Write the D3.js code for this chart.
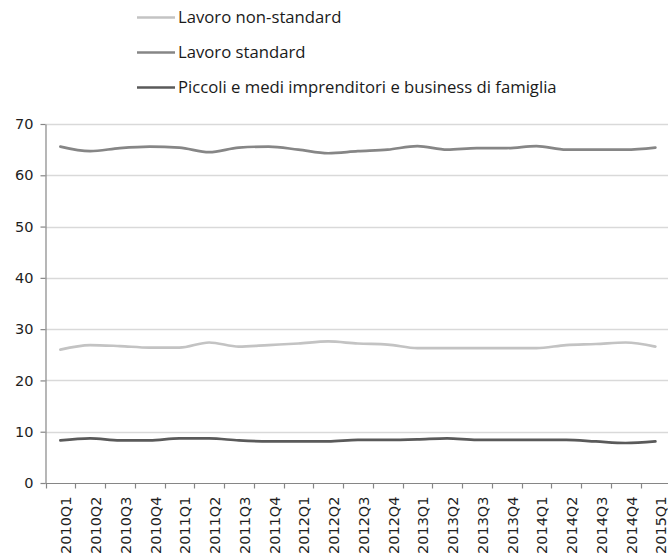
<!DOCTYPE html>
<html>
<head>
<meta charset="utf-8">
<script src="https://cdn.jsdelivr.net/npm/d3@7/dist/d3.min.js"></script>
<style>
  html, body { margin: 0; padding: 0; background: #fff; }
  svg { display: block; }
</style>
</head>
<body>
<svg id="chart" width="668" height="559"></svg>
<script>
// Quarterly shares (%) by employment type
const quarters = [
  "2010Q1","2010Q2","2010Q3","2010Q4",
  "2011Q1","2011Q2","2011Q3","2011Q4",
  "2012Q1","2012Q2","2012Q3","2012Q4",
  "2013Q1","2013Q2","2013Q3","2013Q4",
  "2014Q1","2014Q2","2014Q3","2014Q4",
  "2015Q1"
];
const nonStandard = [26.0, 26.9, 26.7, 26.4, 26.4, 27.4, 26.6, 26.9, 27.2, 27.6, 27.2,
                     27.0, 26.3, 26.3, 26.3, 26.3, 26.3, 26.9, 27.1, 27.4, 26.6];
const standard    = [65.6, 64.7, 65.3, 65.6, 65.4, 64.5, 65.4, 65.6, 65.0, 64.3, 64.7,
                     65.0, 65.7, 65.0, 65.3, 65.3, 65.7, 65.0, 65.0, 65.0, 65.4];
const piccoli     = [8.3, 8.7, 8.3, 8.3, 8.7, 8.7, 8.3, 8.1, 8.1, 8.1, 8.4,
                     8.4, 8.5, 8.7, 8.4, 8.4, 8.4, 8.4, 8.1, 7.8, 8.1];
const yTicks = [0, 10, 20, 30, 40, 50, 60, 70];

const seriesNames  = ["Lavoro non-standard", "Lavoro standard", "Piccoli e medi imprenditori e business di famiglia"];
const seriesValues = [nonStandard, standard, piccoli];
const seriesColors = ["#c3c3c3", "#868686", "#5a5a5a"];

const svg = d3.select("#chart");
const axisFont = "DejaVu Sans, Verdana, sans-serif";

const x = d3.scaleBand().domain(quarters).range([45.5, 670.25]);
const y = d3.scaleLinear().domain([0, 70]).range([483, 124]);

// Horizontal gridlines
svg.append("g")
  .selectAll("line")
  .data(yTicks.filter(t => t > 0))
  .join("line")
  .attr("x1", 45.5).attr("x2", 668)
  .attr("y1", d => Math.round(y(d)) + 0.5).attr("y2", d => Math.round(y(d)) + 0.5)
  .attr("stroke", "#d9d9d9").attr("stroke-width", 1.5);

// Y axis
const yAxis = svg.append("g")
  .attr("transform", "translate(45.5,0)")
  .call(d3.axisLeft(y).tickValues(yTicks).tickSize(5).tickPadding(7).tickSizeOuter(0));
yAxis.attr("font-family", null).attr("font-size", null);
yAxis.select(".domain").attr("stroke", "#868686").attr("stroke-width", 1.2);
yAxis.selectAll(".tick line").attr("stroke", "#868686").attr("stroke-width", 1.2);
yAxis.selectAll(".tick text")
  .style("font-family", axisFont).style("font-size", "14.5px").attr("fill", "#1e1e1e");

// X axis: ticks on category boundaries
const xAxisG = svg.append("g").attr("transform", "translate(0,483.5)");
xAxisG.append("line")
  .attr("x1", 45.5).attr("x2", 668)
  .attr("stroke", "#868686").attr("stroke-width", 1.2);
xAxisG.selectAll("line.tk")
  .data(quarters)
  .join("line").attr("class", "tk")
  .attr("x1", d => Math.round(x(d)) + 0.5).attr("x2", d => Math.round(x(d)) + 0.5)
  .attr("y1", 0).attr("y2", 5)
  .attr("stroke", "#868686").attr("stroke-width", 1.2);
xAxisG.selectAll("text")
  .data(quarters)
  .join("text")
  .attr("transform", d => `translate(${x(d) + x.bandwidth() / 2 + 11},13) rotate(-90)`)
  .attr("text-anchor", "end")
  .style("font-family", axisFont).style("font-size", "14.5px").attr("fill", "#1e1e1e")
  .text(d => d);

// Series lines
const line = d3.line()
  .x((d, i) => x(quarters[i]) + x.bandwidth() / 2)
  .y(d => y(d))
  .curve(d3.curveMonotoneX);

svg.append("g")
  .selectAll("path")
  .data(seriesValues)
  .join("path")
  .attr("d", d => line(d))
  .attr("fill", "none")
  .attr("stroke", (d, i) => seriesColors[i])
  .attr("stroke-width", 2.7)
  .attr("stroke-linejoin", "round")
  .attr("stroke-linecap", "round");

// Legend
const legend = svg.append("g")
  .selectAll("g")
  .data(seriesNames)
  .join("g")
  .attr("transform", (d, i) => `translate(137,${17.5 + i * 35})`);
legend.append("line")
  .attr("x1", 0).attr("x2", 38)
  .attr("stroke", (d, i) => seriesColors[i])
  .attr("stroke-width", 2.6);
legend.append("text")
  .attr("x", 41).attr("dy", "0.35em")
  .style("font-family", "Open Sans, sans-serif")
  .style("font-size", "16.7px").attr("fill", "#1a1a1a")
  .text(d => d);
</script>
</body>
</html>
